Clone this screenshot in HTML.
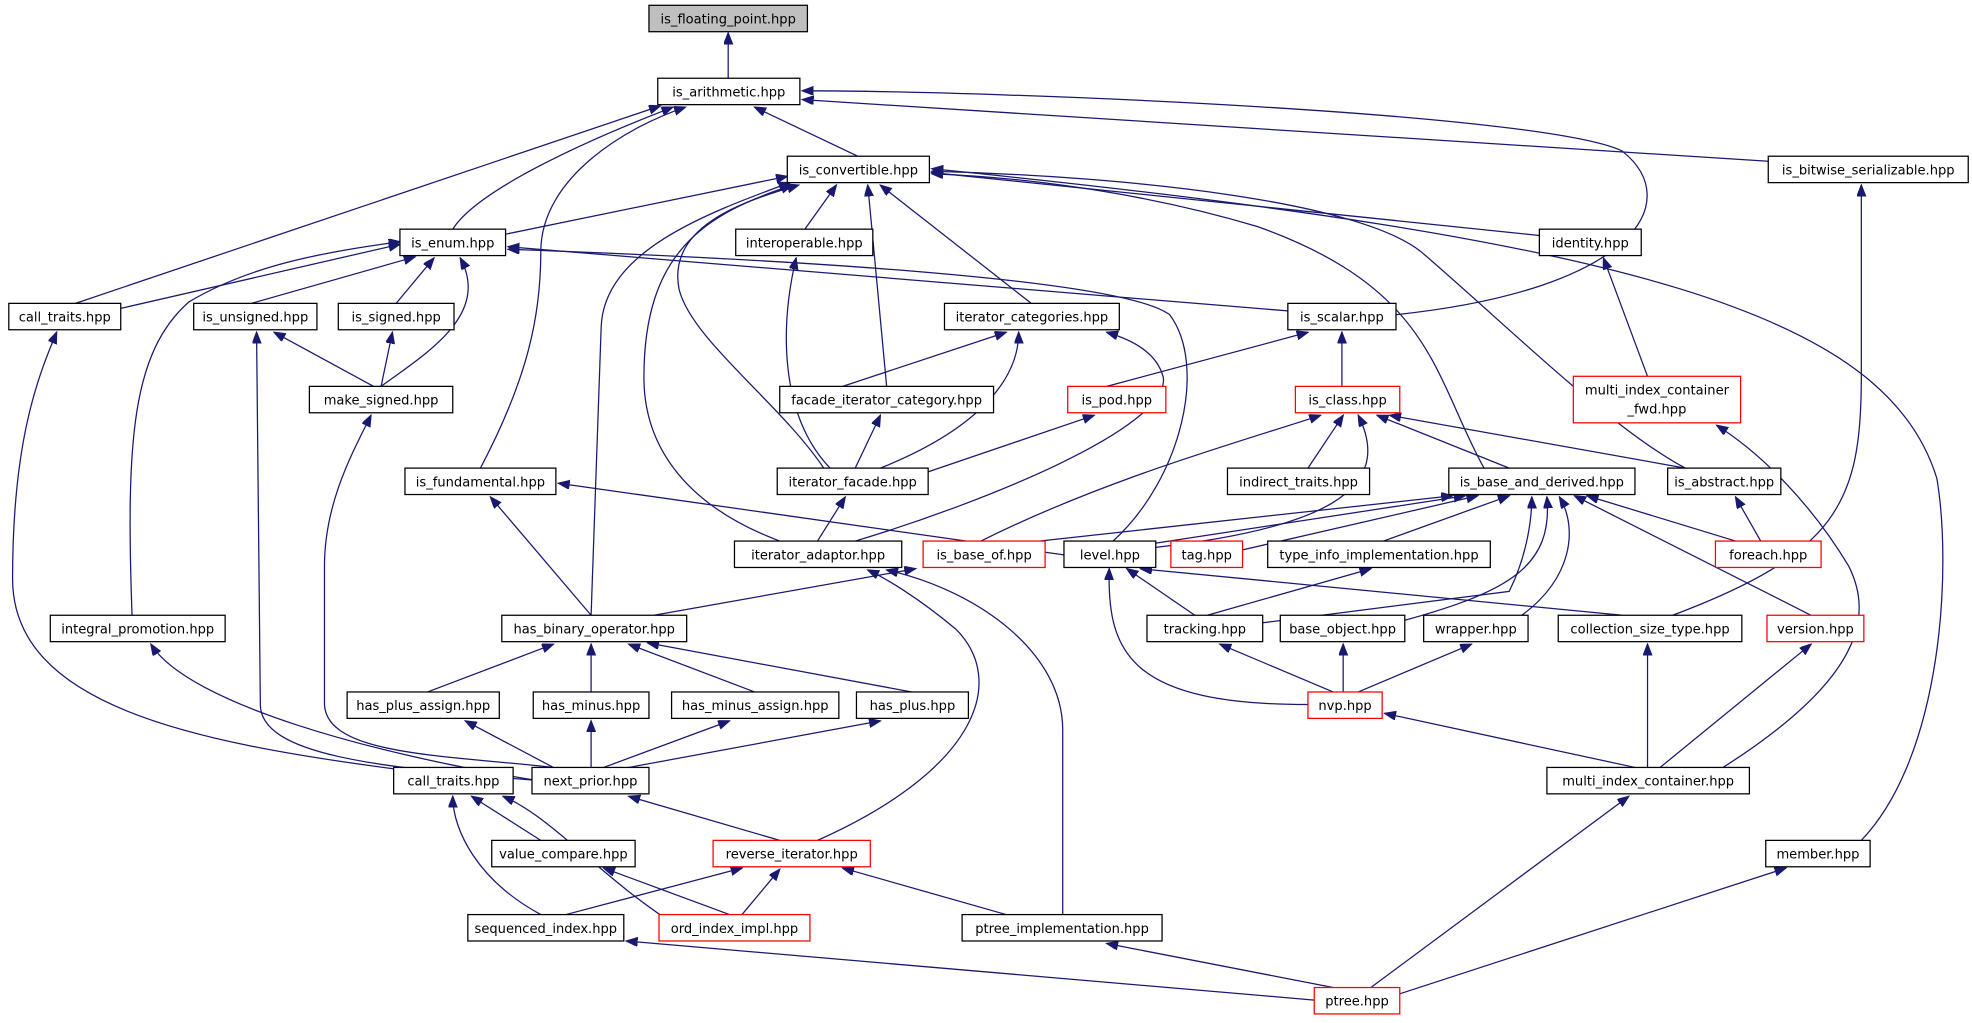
<!DOCTYPE html>
<html><head><meta charset="utf-8"><style>
html,body{margin:0;padding:0;background:#fff;}
svg{display:block}
text{font-family:"DejaVu Sans","Liberation Sans",sans-serif;font-size:10.4px;fill:#000;text-anchor:middle}
.n{fill:#fff;stroke:#000;stroke-width:1}
.r{fill:#fff;stroke:#ff0000;stroke-width:1}
.e{fill:none;stroke:#191970;stroke-width:1;marker-end:url(#a)}
</style></head><body>
<svg width="1972" height="1023" viewBox="0 0 1568 813" xmlns="http://www.w3.org/2000/svg">
<defs><marker id="a" markerUnits="userSpaceOnUse" markerWidth="10" markerHeight="8" refX="9" refY="3.5" orient="auto"><path d="M0,0 L9,3.5 L0,7 z" fill="#191970" stroke="#191970"/></marker></defs>
<g>
<path class="e" d="M579,62 L579,26"/>
<path class="e" d="M682,124 L600,85"/>
<path class="e" d="M1406,128 L638,79"/>
<path class="e" d="M1110,250 C1300,230 1340,160 1290,120 C1230,90 800,72 638,72"/>
<path class="e" d="M360,182 C380,150 470,110 535,85"/>
<path class="e" d="M60,241 L525,84"/>
<path class="e" d="M382,372 C420,300 430,250 430,200 C430,140 500,100 545,85"/>
<path class="e" d="M402,186 L626,140"/>
<path class="e" d="M640,182 L665,147"/>
<path class="e" d="M705,307 L690,147"/>
<path class="e" d="M820,241 L700,147"/>
<path class="e" d="M655,372 C620,320 550,270 540,230 C530,180 590,160 635,147"/>
<path class="e" d="M620,430 C540,400 512,350 512,300 C512,200 560,170 630,147"/>
<path class="e" d="M470,489 L478,260 C480,200 560,170 628,145"/>
<path class="e" d="M1180,372 C1140,300 1140,230 1000,180 C900,150 800,140 741,138"/>
<path class="e" d="M1340,372 C1280,340 1200,260 1130,200 C1080,160 900,140 741,136"/>
<path class="e" d="M1224,187 L741,137"/>
<path class="e" d="M1480,668 C1545,600 1552,450 1540,380 C1500,250 1300,190 741,134"/>
<path class="e" d="M1330,489 C1460,440 1480,400 1480,300 L1480,147"/>
<path class="e" d="M96,245 L318,194"/>
<path class="e" d="M105,489 C100,350 105,280 150,240 C200,210 260,200 318,192"/>
<path class="e" d="M200,241 L330,204"/>
<path class="e" d="M315,241 L345,205"/>
<path class="e" d="M303,307 C340,280 390,250 366,205"/>
<path class="e" d="M1024,247 L404,196"/>
<path class="e" d="M885,430 C940,380 960,290 930,250 C890,220 600,205 404,198"/>
<path class="e" d="M423,620 C300,610 207,600 207,560 L204,264"/>
<path class="e" d="M440,610 C350,600 260,600 258,560 L258,450 C258,400 280,360 295,330"/>
<path class="e" d="M297,307 L218,264"/>
<path class="e" d="M303,307 L312,264"/>
<path class="e" d="M320,612 C150,590 10,560 10,460 C10,350 30,300 45,264"/>
<path class="e" d="M1310,299 L1275,205"/>
<path class="e" d="M670,307 L800,264"/>
<path class="e" d="M700,372 C780,340 810,300 810,264"/>
<path class="e" d="M680,430 C780,400 930,340 925,300 C920,280 900,270 880,264"/>
<path class="e" d="M880,307 L1040,264"/>
<path class="e" d="M1067,307 L1067,264"/>
<path class="e" d="M660,372 C620,330 620,260 633,205"/>
<path class="e" d="M680,372 L700,330"/>
<path class="e" d="M735,376 L870,330"/>
<path class="e" d="M650,430 L672,395"/>
<path class="e" d="M1040,372 L1068,330"/>
<path class="e" d="M1200,372 L1095,330"/>
<path class="e" d="M1340,372 L1105,330"/>
<path class="e" d="M780,430 C880,380 990,350 1050,330"/>
<path class="e" d="M919,435 C1050,420 1110,390 1080,330"/>
<path class="e" d="M1400,430 L1380,395"/>
<path class="e" d="M1370,610 C1480,540 1490,490 1470,450 C1440,400 1400,360 1365,338"/>
<path class="e" d="M735,440 L1155,394"/>
<path class="e" d="M910,433 L1165,394"/>
<path class="e" d="M988,437 L1175,394"/>
<path class="e" d="M1100,430 L1200,394"/>
<path class="e" d="M1004,495 L1200,470 C1215,440 1218,410 1218,395"/>
<path class="e" d="M1117,493 C1200,470 1235,450 1230,395"/>
<path class="e" d="M1210,489 C1250,460 1255,420 1240,395"/>
<path class="e" d="M1440,489 L1252,394"/>
<path class="e" d="M1380,430 L1262,394"/>
<path class="e" d="M846,441 L444,384"/>
<path class="e" d="M950,489 L896,452"/>
<path class="e" d="M1040,560 C900,560 880,520 882,452"/>
<path class="e" d="M1290,489 L907,452"/>
<path class="e" d="M960,489 L1090,452"/>
<path class="e" d="M1060,550 L970,512"/>
<path class="e" d="M1068,550 L1068,512"/>
<path class="e" d="M1080,550 L1170,512"/>
<path class="e" d="M1300,610 L1101,567"/>
<path class="e" d="M1310,610 L1310,512"/>
<path class="e" d="M1320,610 L1440,512"/>
<path class="e" d="M650,668 C780,610 800,540 760,500 C730,475 705,460 690,453"/>
<path class="e" d="M845,727 L845,580 C845,520 780,470 705,453"/>
<path class="e" d="M520,489 L728,452"/>
<path class="e" d="M470,489 L390,395"/>
<path class="e" d="M340,550 L440,512"/>
<path class="e" d="M470,550 L470,512"/>
<path class="e" d="M600,550 L500,512"/>
<path class="e" d="M725,550 L515,511"/>
<path class="e" d="M425,620 C300,600 150,560 120,512"/>
<path class="e" d="M440,610 L370,573"/>
<path class="e" d="M470,610 L470,573"/>
<path class="e" d="M480,610 L580,573"/>
<path class="e" d="M500,610 L700,573"/>
<path class="e" d="M620,668 L500,633"/>
<path class="e" d="M430,668 L375,633"/>
<path class="e" d="M430,727 C380,700 360,660 360,633"/>
<path class="e" d="M540,737 C480,700 440,650 400,633"/>
<path class="e" d="M580,727 L480,690"/>
<path class="e" d="M450,727 L590,690"/>
<path class="e" d="M590,727 L620,691"/>
<path class="e" d="M800,727 L670,690"/>
<path class="e" d="M1045,795 L498,748"/>
<path class="e" d="M1060,785 L880,750"/>
<path class="e" d="M1090,785 L1295,633"/>
<path class="e" d="M1113,790 L1420,690"/>
</g>
<g>
<rect x="516" y="4" width="126" height="21" fill="#bfbfbf" stroke="#000"/><text x="579" y="18.5">is_floating_point.hpp</text>
<rect class="n" x="523" y="62" width="113" height="21"/><text x="579.5" y="76.5">is_arithmetic.hpp</text>
<rect class="n" x="626" y="124" width="113" height="21"/><text x="682.5" y="138.5">is_convertible.hpp</text>
<rect class="n" x="1406" y="124" width="159" height="21"/><text x="1485.5" y="138.5">is_bitwise_serializable.hpp</text>
<rect class="n" x="318" y="182" width="84" height="21"/><text x="360" y="196.5">is_enum.hpp</text>
<rect class="n" x="585" y="182" width="109" height="21"/><text x="639.5" y="196.5">interoperable.hpp</text>
<rect class="n" x="1224" y="182" width="81" height="21"/><text x="1264.5" y="196.5">identity.hpp</text>
<rect class="n" x="7" y="241" width="89" height="21"/><text x="51.5" y="255.5">call_traits.hpp</text>
<rect class="n" x="154" y="241" width="98" height="21"/><text x="203" y="255.5">is_unsigned.hpp</text>
<rect class="n" x="269" y="241" width="92" height="21"/><text x="315" y="255.5">is_signed.hpp</text>
<rect class="n" x="751" y="241" width="139" height="21"/><text x="820.5" y="255.5">iterator_categories.hpp</text>
<rect class="n" x="1024" y="241" width="86" height="21"/><text x="1067" y="255.5">is_scalar.hpp</text>
<rect class="n" x="246" y="307" width="114" height="21"/><text x="303" y="321.5">make_signed.hpp</text>
<rect class="n" x="620" y="307" width="170" height="21"/><text x="705" y="321.5">facade_iterator_category.hpp</text>
<rect class="r" x="849" y="307" width="78" height="21"/><text x="888" y="321.5">is_pod.hpp</text>
<rect class="r" x="1030" y="307" width="83" height="21"/><text x="1071.5" y="321.5">is_class.hpp</text>
<rect class="r" x="1251" y="299" width="133" height="37"/><text x="1317.5" y="313.5">multi_index_container</text><text x="1317.5" y="328.5">_fwd.hpp</text>
<rect class="n" x="322" y="372" width="120" height="21"/><text x="382" y="386.5">is_fundamental.hpp</text>
<rect class="n" x="618" y="372" width="120" height="21"/><text x="678" y="386.5">iterator_facade.hpp</text>
<rect class="n" x="976" y="372" width="113" height="21"/><text x="1032.5" y="386.5">indirect_traits.hpp</text>
<rect class="n" x="1152" y="372" width="148" height="21"/><text x="1226" y="386.5">is_base_and_derived.hpp</text>
<rect class="n" x="1326" y="372" width="90" height="21"/><text x="1371" y="386.5">is_abstract.hpp</text>
<rect class="n" x="584" y="430" width="133" height="21"/><text x="650.5" y="444.5">iterator_adaptor.hpp</text>
<rect class="r" x="734" y="430" width="97" height="21"/><text x="782.5" y="444.5">is_base_of.hpp</text>
<rect class="n" x="846" y="430" width="73" height="21"/><text x="882.5" y="444.5">level.hpp</text>
<rect class="r" x="931" y="430" width="57" height="21"/><text x="959.5" y="444.5">tag.hpp</text>
<rect class="n" x="1008" y="430" width="177" height="21"/><text x="1096.5" y="444.5">type_info_implementation.hpp</text>
<rect class="r" x="1364" y="430" width="84" height="21"/><text x="1406" y="444.5">foreach.hpp</text>
<rect class="n" x="40" y="489" width="139" height="21"/><text x="109.5" y="503.5">integral_promotion.hpp</text>
<rect class="n" x="399" y="489" width="147" height="21"/><text x="472.5" y="503.5">has_binary_operator.hpp</text>
<rect class="n" x="912" y="489" width="92" height="21"/><text x="958" y="503.5">tracking.hpp</text>
<rect class="n" x="1018" y="489" width="99" height="21"/><text x="1067.5" y="503.5">base_object.hpp</text>
<rect class="n" x="1132" y="489" width="83" height="21"/><text x="1173.5" y="503.5">wrapper.hpp</text>
<rect class="n" x="1239" y="489" width="146" height="21"/><text x="1312" y="503.5">collection_size_type.hpp</text>
<rect class="r" x="1405" y="489" width="77" height="21"/><text x="1443.5" y="503.5">version.hpp</text>
<rect class="n" x="276" y="550" width="121" height="21"/><text x="336.5" y="564.5">has_plus_assign.hpp</text>
<rect class="n" x="424" y="550" width="92" height="21"/><text x="470" y="564.5">has_minus.hpp</text>
<rect class="n" x="534" y="550" width="133" height="21"/><text x="600.5" y="564.5">has_minus_assign.hpp</text>
<rect class="n" x="681" y="550" width="89" height="21"/><text x="725.5" y="564.5">has_plus.hpp</text>
<rect class="r" x="1040" y="550" width="59" height="21"/><text x="1069.5" y="564.5">nvp.hpp</text>
<rect class="n" x="313" y="610" width="95" height="21"/><text x="360.5" y="624.5">call_traits.hpp</text>
<rect class="n" x="423" y="610" width="93" height="21"/><text x="469.5" y="624.5">next_prior.hpp</text>
<rect class="n" x="1230" y="610" width="161" height="21"/><text x="1310.5" y="624.5">multi_index_container.hpp</text>
<rect class="n" x="391" y="668" width="114" height="21"/><text x="448" y="682.5">value_compare.hpp</text>
<rect class="r" x="567" y="668" width="125" height="21"/><text x="629.5" y="682.5">reverse_iterator.hpp</text>
<rect class="n" x="1404" y="668" width="83" height="21"/><text x="1445.5" y="682.5">member.hpp</text>
<rect class="n" x="372" y="727" width="124" height="21"/><text x="434" y="741.5">sequenced_index.hpp</text>
<rect class="r" x="524" y="727" width="120" height="21"/><text x="584" y="741.5">ord_index_impl.hpp</text>
<rect class="n" x="765" y="727" width="159" height="21"/><text x="844.5" y="741.5">ptree_implementation.hpp</text>
<rect class="r" x="1045" y="785" width="68" height="21"/><text x="1079" y="799.5">ptree.hpp</text>
</g>
</svg>
</body></html>
